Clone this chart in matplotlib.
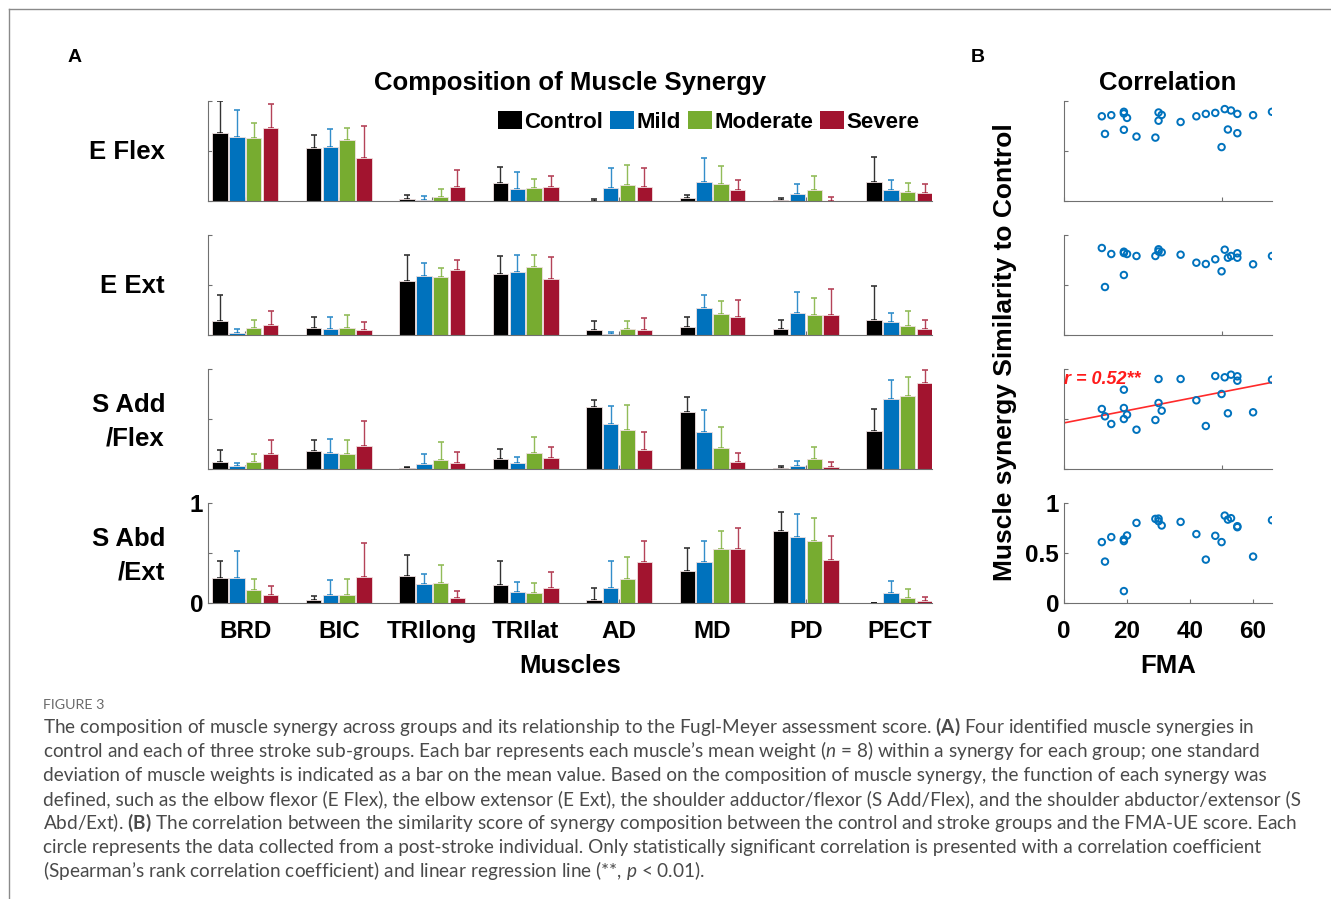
import numpy as np
import matplotlib
matplotlib.use('Agg')
import matplotlib.pyplot as plt
from matplotlib.patches import Patch
from matplotlib.lines import Line2D

muscles = ['BRD', 'BIC', 'TRIlong', 'TRIlat', 'AD', 'MD', 'PD', 'PECT']
groups = ['Control', 'Mild', 'Moderate', 'Severe']
group_colors = ['#000000', '#0072BD', '#77AC30', '#A2142F']
synergy_labels = [['E Flex'], ['E Ext'], ['S Add', '/Flex'], ['S Abd', '/Ext']]

# mean muscle weight per group (rows: Control, Mild, Moderate, Severe)
eflex_mean = [[0.685, 0.532, 0.024, 0.176, 0.003, 0.027, 0.007, 0.193],
              [0.644, 0.536, 0.014, 0.122, 0.132, 0.193, 0.075, 0.115],
              [0.634, 0.614, 0.044, 0.132, 0.163, 0.173, 0.115, 0.092],
              [0.729, 0.431, 0.136, 0.139, 0.136, 0.108, 0.003, 0.078]]
eflex_sd = [[0.315, 0.129, 0.037, 0.166, 0.017, 0.034, 0.020, 0.251],
            [0.264, 0.189, 0.033, 0.166, 0.197, 0.241, 0.094, 0.099],
            [0.149, 0.118, 0.081, 0.085, 0.196, 0.180, 0.139, 0.084],
            [0.237, 0.315, 0.179, 0.112, 0.193, 0.099, 0.034, 0.091]]

eext_mean = [[0.143, 0.067, 0.540, 0.607, 0.050, 0.080, 0.063, 0.150],
             [0.017, 0.057, 0.593, 0.633, 0.010, 0.267, 0.217, 0.127],
             [0.073, 0.067, 0.577, 0.683, 0.060, 0.213, 0.200, 0.090],
             [0.100, 0.050, 0.650, 0.563, 0.050, 0.183, 0.203, 0.063]]
eext_sd = [[0.254, 0.110, 0.257, 0.183, 0.087, 0.100, 0.090, 0.340],
           [0.040, 0.120, 0.130, 0.170, 0.023, 0.136, 0.213, 0.090],
           [0.074, 0.136, 0.096, 0.114, 0.077, 0.127, 0.170, 0.147],
           [0.137, 0.080, 0.100, 0.220, 0.117, 0.170, 0.257, 0.084]]

sadd_mean = [[0.070, 0.180, 0.007, 0.100, 0.620, 0.570, 0.010, 0.380],
             [0.027, 0.163, 0.050, 0.060, 0.453, 0.367, 0.030, 0.703],
             [0.067, 0.150, 0.093, 0.160, 0.393, 0.210, 0.103, 0.727],
             [0.147, 0.227, 0.063, 0.110, 0.187, 0.070, 0.017, 0.857]]
sadd_sd = [[0.120, 0.113, 0.016, 0.100, 0.073, 0.153, 0.020, 0.223],
           [0.036, 0.134, 0.103, 0.063, 0.180, 0.223, 0.050, 0.190],
           [0.080, 0.143, 0.180, 0.160, 0.247, 0.213, 0.114, 0.190],
           [0.146, 0.253, 0.104, 0.110, 0.180, 0.090, 0.050, 0.130]]

sabd_mean = [[0.248, 0.030, 0.275, 0.185, 0.033, 0.321, 0.719, 0.000],
             [0.248, 0.083, 0.195, 0.106, 0.152, 0.407, 0.659, 0.099],
             [0.129, 0.083, 0.202, 0.096, 0.245, 0.540, 0.623, 0.053],
             [0.076, 0.262, 0.050, 0.152, 0.411, 0.536, 0.434, 0.020]]
sabd_sd = [[0.176, 0.043, 0.208, 0.235, 0.116, 0.225, 0.192, 0.003],
           [0.272, 0.152, 0.093, 0.106, 0.272, 0.209, 0.232, 0.120],
           [0.113, 0.162, 0.179, 0.106, 0.219, 0.185, 0.225, 0.083],
           [0.096, 0.338, 0.066, 0.156, 0.212, 0.216, 0.235, 0.036]]

# FMA-UE score of each post-stroke subject and similarity to control
fma = [12, 13, 15, 19, 19, 19, 20, 23, 29, 30, 30, 31,
       37, 42, 45, 48, 50, 51, 52, 53, 55, 55, 60, 66]
sim_eflex = [0.847, 0.671, 0.858, 0.892, 0.875, 0.712, 0.831, 0.644, 0.634, 0.885, 0.803, 0.861,
             0.790, 0.847, 0.871, 0.881, 0.539, 0.919, 0.715, 0.905, 0.871, 0.678, 0.858, 0.892]
sim_eext = [0.870, 0.480, 0.810, 0.833, 0.820, 0.600, 0.810, 0.790, 0.790, 0.857, 0.835, 0.827,
            0.803, 0.723, 0.710, 0.757, 0.637, 0.853, 0.773, 0.790, 0.817, 0.773, 0.707, 0.790]
sim_sadd = [0.600, 0.527, 0.450, 0.793, 0.610, 0.500, 0.543, 0.393, 0.490, 0.900, 0.660, 0.583,
            0.900, 0.687, 0.430, 0.930, 0.750, 0.917, 0.557, 0.943, 0.927, 0.883, 0.567, 0.893]
sim_sabd = [0.609, 0.414, 0.659, 0.619, 0.636, 0.119, 0.675, 0.801, 0.841, 0.844, 0.818, 0.775,
            0.811, 0.689, 0.434, 0.672, 0.609, 0.874, 0.834, 0.848, 0.768, 0.758, 0.464, 0.828]

caption_lines = [
    "The composition of muscle synergy across groups and its relationship to the Fugl-Meyer assessment score. $\\mathbf{(A)}$ Four identified muscle synergies in",
    "control and each of three stroke sub-groups. Each bar represents each muscle\u2019s mean weight ($\\mathit{n}$ = 8) within a synergy for each group; one standard",
    "deviation of muscle weights is indicated as a bar on the mean value. Based on the composition of muscle synergy, the function of each synergy was",
    "defined, such as the elbow flexor (E Flex), the elbow extensor (E Ext), the shoulder adductor/flexor (S Add/Flex), and the shoulder abductor/extensor (S",
    "Abd/Ext). $\\mathbf{(B)}$ The correlation between the similarity score of synergy composition between the control and stroke groups and the FMA-UE score. Each",
    "circle represents the data collected from a post-stroke individual. Only statistically significant correlation is presented with a correlation coefficient",
    "(Spearman\u2019s rank correlation coefficient) and linear regression line (**, $\\mathit{p}$ < 0.01).",
]

plt.rcParams['font.family'] = ['Liberation Sans', 'DejaVu Sans']
plt.rcParams['mathtext.fontset'] = 'custom'
plt.rcParams['mathtext.rm'] = 'Lato'
plt.rcParams['mathtext.it'] = 'Lato:italic'
plt.rcParams['mathtext.bf'] = 'Lato:bold'

W, H = 1331, 899
fig = plt.figure(figsize=(W / 100, H / 100), dpi=100)


def box(l, t, r, b):
    return [l / W, 1 - b / H, (r - l) / W, (b - t) / H]


axis_col = '#707070'
tops = [101, 235, 369, 503]
bar_means = [eflex_mean, eext_mean, sadd_mean, sabd_mean]
bar_sds = [eflex_sd, eext_sd, sadd_sd, sabd_sd]
sims = [sim_eflex, sim_eext, sim_sadd, sim_sabd]
x = np.arange(1, len(muscles) + 1)
offsets = [-0.27, -0.09, 0.09, 0.27]

for r in range(4):
    t = tops[r]
    ax = fig.add_axes(box(208, t, 932, t + 100))
    for g in range(4):
        m = np.array(bar_means[r][g])
        s = np.array(bar_sds[r][g])
        ax.errorbar(x + offsets[g], m, yerr=[np.zeros_like(s), s], fmt='none',
                    ecolor=group_colors[g], elinewidth=1, capsize=2.5, capthick=1.2,
                    alpha=0.8, zorder=1)
        ax.bar(x + offsets[g], m, width=0.165, color=group_colors[g],
               edgecolor='#f0e0e0', linewidth=0.6, zorder=2)
    ax.set_xlim(0.6, 8.35)
    ax.set_ylim(0, 1)
    ax.set_yticks([0, 0.5, 1])
    ax.set_xticks(x)
    for sp in ['top', 'right']:
        ax.spines[sp].set_visible(False)
    for sp in ['left', 'bottom']:
        ax.spines[sp].set_color(axis_col)
    ax.tick_params(direction='in', length=3, color=axis_col, labelsize=17.5)
    if r == 3:
        ax.set_yticklabels(['0', '', '1'], fontweight='bold')
        ax.set_xticklabels(muscles, fontweight='bold')
        ax.tick_params(axis='x', pad=12)
        ax.set_xlabel('Muscles', fontsize=18.5, fontweight='bold', labelpad=8)
    else:
        ax.set_yticklabels([])
        ax.set_xticklabels([])
    if r == 0:
        ax.set_title('Composition of Muscle Synergy', fontsize=18.5, fontweight='bold', pad=8)
        handles = [Patch(facecolor=c, edgecolor='none') for c in group_colors]
        ax.legend(handles, groups, loc='upper right', bbox_to_anchor=(0.995, 0.99), ncol=4,
                  frameon=False, handlelength=1.1, handleheight=0.9, handletextpad=0.1,
                  columnspacing=0.3, borderaxespad=0,
                  prop={'weight': 'bold', 'size': 16})
    lab = synergy_labels[r]
    if len(lab) == 1:
        fig.text(165 / W, 1 - (t + 51) / H, lab[0], ha='right', va='center',
                 fontsize=18.5, fontweight='bold')
    else:
        fig.text(165 / W, 1 - (t + 36) / H, lab[0], ha='right', va='center',
                 fontsize=18.5, fontweight='bold')
        fig.text(165 / W, 1 - (t + 69) / H, lab[1], ha='right', va='center',
                 fontsize=18.5, fontweight='bold')

    # correlation panel
    ax2 = fig.add_axes(box(1064, t, 1272, t + 100))
    ax2.scatter(fma, sims[r], s=22, facecolors='none', edgecolors='#0072BD',
                linewidths=1.4, zorder=3)
    ax2.set_xlim(0, 66)
    ax2.set_ylim(0, 1)
    ax2.set_yticks([0, 0.5, 1])
    for sp in ['top', 'right']:
        ax2.spines[sp].set_visible(False)
    for sp in ['left', 'bottom']:
        ax2.spines[sp].set_color(axis_col)
    ax2.tick_params(direction='in', length=3, color=axis_col, labelsize=17.5)
    if r == 3:
        ax2.set_xticks([0, 20, 40, 60])
        ax2.set_xticklabels(['0', '20', '40', '60'], fontweight='bold')
        ax2.set_yticklabels(['0', '0.5', '1'], fontweight='bold')
        ax2.tick_params(axis='x', pad=12)
        ax2.set_xlabel('FMA', fontsize=18.5, fontweight='bold', labelpad=8)
    else:
        ax2.set_xticks([0, 50])
        ax2.set_xticklabels([])
        ax2.set_yticklabels([])
    if r == 0:
        ax2.set_title('Correlation', fontsize=18.5, fontweight='bold', pad=8)
    if r == 2:
        coef = np.polyfit(fma, sim_sadd, 1)
        xx = np.array([0, 66])
        ax2.plot(xx, np.polyval(coef, xx), color='#FF2A2A', lw=1.2, zorder=2)
        ax2.text(0, 0.89, 'r = 0.52**', color='#FF1A1A', fontsize=13,
                 fontweight='bold', style='italic', va='center', ha='left', zorder=4)

fig.text(1005 / W, 1 - 352 / H, 'Muscle synergy Similarity to Control', rotation=90,
         ha='center', va='center', fontsize=19, fontweight='bold')

fig.text(75 / W, 1 - 57 / H, 'A', ha='center', va='center', fontsize=14, fontweight='bold')
fig.text(978 / W, 1 - 57 / H, 'B', ha='center', va='center', fontsize=14, fontweight='bold')

# frame of the figure page
fig.add_artist(Line2D([9 / W, 1], [1 - 9 / H, 1 - 9 / H], color='#8a8a8a', lw=1,
                      transform=fig.transFigure))
fig.add_artist(Line2D([9 / W, 9 / W], [0, 1 - 9 / H], color='#8a8a8a', lw=1,
                      transform=fig.transFigure))

# caption
fig.text(43 / W, 1 - 705 / H, 'FIGURE 3', ha='left', va='center', fontsize=10.3,
         color='#6a6a6a', family='Lato')
for i, line in enumerate(caption_lines):
    fig.text(43 / W, 1 - (727 + 24 * i) / H, line, ha='left', va='center',
             fontsize=13.7, color='#4a4a4a', family='Lato')

fig.savefig('out.png', dpi=100)
